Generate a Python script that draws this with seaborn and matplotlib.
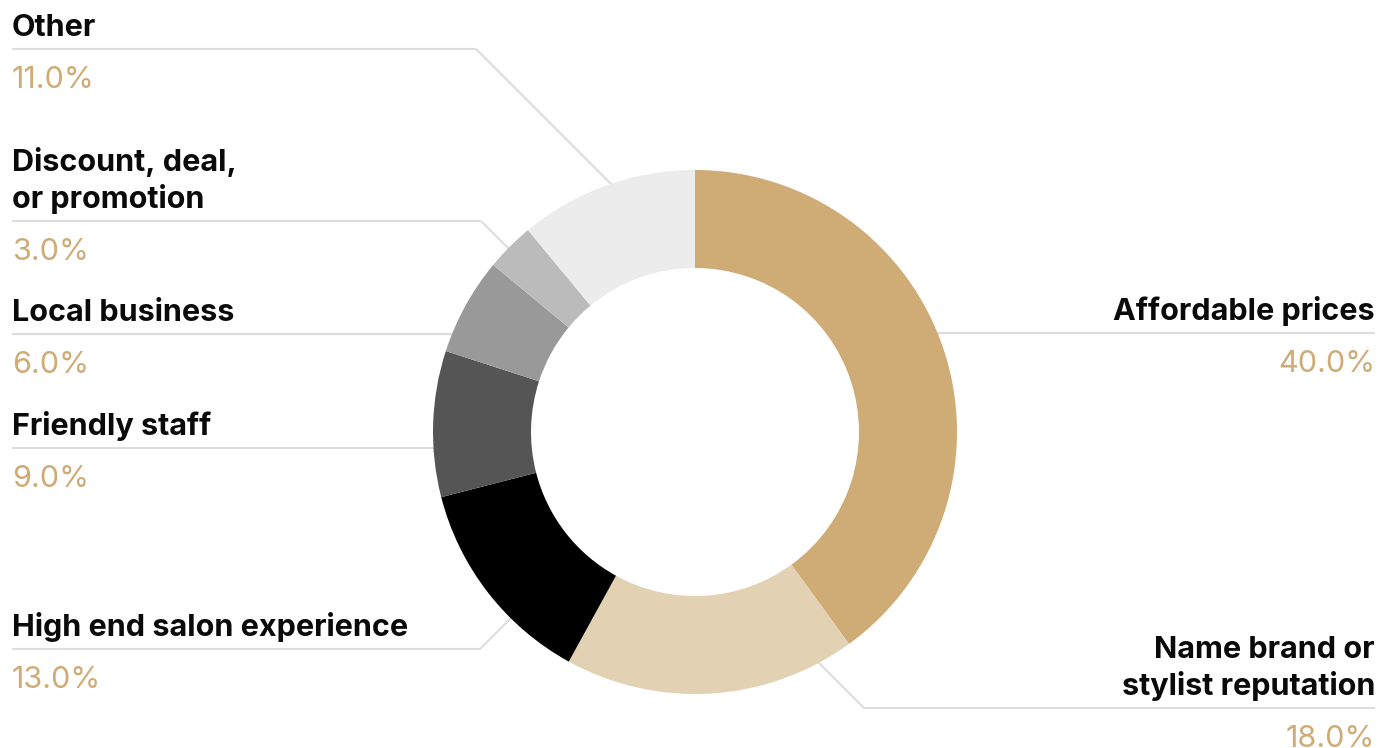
import numpy as np
import matplotlib
matplotlib.use("Agg")
import matplotlib.pyplot as plt
import seaborn as sns

# ---- data -------------------------------------------------------------
categories = [
    "Affordable prices",
    "Name brand or\nstylist reputation",
    "High end salon experience",
    "Friendly staff",
    "Local business",
    "Discount, deal,\nor promotion",
    "Other",
]
shares = [40.0, 18.0, 13.0, 9.0, 6.0, 3.0, 11.0]
slice_colors = ["#cfab76", "#e3d1b3", "#000000", "#555555",
                "#999999", "#bbbbbb", "#ececec"]

# ---- label layout (pixels, measured from the top edge) ----------------
label_side = ["right", "right", "left", "left", "left", "left", "left"]
leader_y = [333, 708, 649, 448, 334, 221, 49]
elbow_x = [None, 864, 480, None, None, 481, 476]

sns.set_theme(style="white")
plt.rcParams["font.family"] = ["Inter", "DejaVu Sans"]

W, H = 1381, 748
fig = plt.figure(figsize=(W / 100, H / 100), dpi=100)
ax = fig.add_axes([0, 0, 1, 1])

cx, cy = 695, H - 432
r_out, r_in = 262, 164
r_mid = (r_out + r_in) / 2

palette = sns.color_palette(slice_colors)
wedges, _ = ax.pie(
    shares,
    colors=palette,
    startangle=90,
    counterclock=False,
    radius=r_out,
    center=(cx, cy),
    wedgeprops=dict(width=r_out - r_in, linewidth=0),
    frame=False,
)
for w in wedges:
    w.set_zorder(3)

ax.set_xlim(0, W)
ax.set_ylim(0, H)
ax.set_aspect("equal")
ax.axis("off")

x_left, x_right = 12, 1375
line_col = "#dddddd"
name_col = "#0a0a0a"
value_col = "#cfab76"
fs = 22
row_gap = 37

for i, name in enumerate(categories):
    side = label_side[i]
    y = H - leader_y[i]
    sgn = 1 if side == "left" else -1
    x_edge = x_left if side == "left" else x_right

    # leader: horizontal run, optional 45-degree leg, ending inside the ring
    if elbow_x[i] is None:
        dx_end = np.sqrt(max(r_mid ** 2 - (y - cy) ** 2, 0))
        xs = [x_edge, cx - sgn * dx_end]
        ys = [y, y]
    else:
        ex = elbow_x[i]
        dx = sgn
        dy = 1 if cy > y else -1
        px, py = ex - cx, y - cy
        a = 2.0
        b = 2 * (dx * px + dy * py)
        c = px ** 2 + py ** 2 - r_mid ** 2
        t = (-b - np.sqrt(b * b - 4 * a * c)) / (2 * a)
        xs = [x_edge, ex, ex + dx * t]
        ys = [y, y, y + dy * t]
    ax.plot(xs, ys, color=line_col, lw=1.5, zorder=1, solid_capstyle="butt")

    ha = "left" if side == "left" else "right"
    lines = name.split("\n")
    base = y + 13
    for k, ln in enumerate(reversed(lines)):
        ax.text(x_edge, base + k * row_gap, ln, ha=ha, va="baseline",
                fontsize=fs, fontweight="bold", color=name_col, zorder=4)
    ax.text(x_edge, y - 39, f"{shares[i]:.1f}%", ha=ha, va="baseline",
            fontsize=fs, color=value_col, zorder=4)

fig.savefig("out.png", dpi=100, facecolor="white")
